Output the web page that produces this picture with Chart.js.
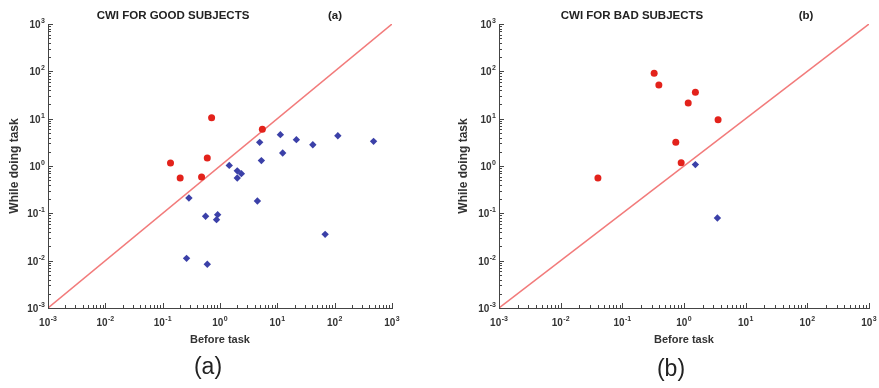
<!DOCTYPE html>
<html>
<head>
<meta charset="utf-8">
<script src="https://cdn.jsdelivr.net/npm/chart.js@4/dist/chart.umd.min.js"></script>
<style>
  html, body { margin: 0; padding: 0; background: #fff; }
  body { width: 879px; height: 388px; position: relative; overflow: hidden; font-family: "Liberation Sans", Arial, sans-serif; }
  canvas { position: absolute; top: 0; }
  .ttl { position: absolute; font-weight: bold; font-size: 11.5px; color: #222; transform: translate(-50%, -50%); white-space: nowrap; }
  .cap { position: absolute; font-size: 23px; color: #222; transform: translate(-50%, -50%); font-family: "Liberation Sans", sans-serif; }
</style>
</head>
<body>
<canvas id="ca" width="440" height="355" style="left:0"></canvas>
<canvas id="cb" width="439" height="355" style="left:440px"></canvas>
<div class="ttl" style="left:173px; top:15px">CWI FOR GOOD SUBJECTS</div>
<div class="ttl" style="left:335px; top:15px">(a)</div>
<div class="ttl" style="left:632px; top:15px">CWI FOR BAD SUBJECTS</div>
<div class="ttl" style="left:806px; top:15px">(b)</div>
<div class="cap" style="left:208px; top:366px">(a)</div>
<div class="cap" style="left:671px; top:368px">(b)</div>
<script>
// ---- data ----
const tickValues = [1e-3, 1e-2, 1e-1, 1e0, 1e1, 1e2, 1e3];
const tickBase = '10';
const tickExponents = ['-3', '-2', '-1', '0', '1', '2', '3'];
const identityLine = [1e-3, 1e3];

const goodRedX = [0.137, 0.202, 0.477, 0.600, 0.714, 5.48];
const goodRedY = [1.16, 0.557, 0.586, 1.47, 10.5, 5.95];
const goodBlueX = [0.287, 0.261, 0.561, 0.600, 0.91, 0.87, 1.45, 2.0, 2.36, 2.0, 4.49, 4.92, 5.27, 11.3, 12.4, 21.5, 41.6, 68.2, 113.6, 477];
const goodBlueY = [0.211, 0.0112, 0.0865, 0.00837, 0.0937, 0.0735, 1.03, 0.79, 0.69, 0.557, 0.182, 3.16, 1.30, 4.59, 1.88, 3.6, 2.82, 0.036, 4.37, 3.32];

const badRedX = [0.0402, 0.328, 0.391, 0.736, 0.90, 1.17, 1.53, 3.57];
const badRedY = [0.557, 90.8, 51.4, 3.16, 1.175, 21.4, 36, 9.5];
const badBlueX = [1.53, 3.48];
const badBlueY = [1.07, 0.0797];

// ---- helpers ----
const pts = (xs, ys) => xs.map((x, i) => ({ x: x, y: ys[i] }));
const AXIS = '#444';
const RED = '#e3221b';
const BLUE = '#3b40a8';
const LINE = '#f27b7b';
const BASE_FONT = 'bold 10px "Liberation Sans", Arial, sans-serif';
const EXP_FONT = 'bold 7px "Liberation Sans", Arial, sans-serif';

const minorTicks = {
  id: 'minorTicks',
  afterDatasetsDraw(chart) {
    const { ctx, scales: { x, y }, chartArea: a } = chart;
    ctx.save();
    ctx.strokeStyle = AXIS;
    ctx.lineWidth = 1;
    ctx.beginPath();
    for (let e = -3; e <= 3; e++) {
      for (let m = 1; m <= 9; m++) {
        if (e === 3 && m > 1) break;
        const v = m * Math.pow(10, e);
        const len = m === 1 ? 5 : 3;
        const px = Math.round(x.getPixelForValue(v)) + 0.5;
        ctx.moveTo(px, a.bottom);
        ctx.lineTo(px, a.bottom - len);
        const py = Math.round(y.getPixelForValue(v)) + 0.5;
        ctx.moveTo(a.left, py);
        ctx.lineTo(a.left + len, py);
      }
    }
    ctx.stroke();
    ctx.restore();
  }
};

// power-of-ten tick labels with raised exponents, placed through the scales
const powerLabels = {
  id: 'powerLabels',
  afterDraw(chart) {
    const { ctx, scales: { x, y }, chartArea: a } = chart;
    ctx.save();
    ctx.fillStyle = '#333';
    ctx.textBaseline = 'alphabetic';
    tickValues.forEach((v, i) => {
      const exp = tickExponents[i];
      ctx.font = BASE_FONT; const wb = ctx.measureText(tickBase).width;
      ctx.font = EXP_FONT; const we = ctx.measureText(exp).width;
      const total = wb + we + 0.5;
      // x axis label
      const px = x.getPixelForValue(v);
      const bx = px - total / 2;
      const by = a.bottom + 18;
      ctx.textAlign = 'left';
      ctx.font = BASE_FONT; ctx.fillText(tickBase, bx, by);
      ctx.font = EXP_FONT; ctx.fillText(exp, bx + wb + 0.5, by - 5);
      // y axis label
      const py = y.getPixelForValue(v);
      const rx = a.left - 3 - total;
      const ry = py + 4;
      ctx.font = BASE_FONT; ctx.fillText(tickBase, rx, ry);
      ctx.font = EXP_FONT; ctx.fillText(exp, rx + wb + 0.5, ry - 5);
    });
    ctx.restore();
  }
};

function makeChart(id, redPts, bluePts, geom) {
  const axisScale = (extra) => Object.assign({
    type: 'logarithmic',
    min: 1e-3,
    max: 1e3,
    grid: { display: false, drawTicks: false },
    border: { display: true, color: AXIS, width: 1 },
    afterBuildTicks: (s) => { s.ticks = tickValues.map(v => ({ value: v })); },
    ticks: { display: false }
  }, extra);

  return new Chart(document.getElementById(id), {
    data: {
      datasets: [
        { type: 'line', data: pts(identityLine, identityLine), borderColor: LINE, borderWidth: 1.5, pointRadius: 0, order: 3, fill: false },
        { type: 'scatter', data: pts(bluePts[0], bluePts[1]), pointStyle: 'rectRot', pointRadius: 3.7, backgroundColor: BLUE, borderColor: BLUE, borderWidth: 0, order: 2 },
        { type: 'scatter', data: pts(redPts[0], redPts[1]), pointStyle: 'circle', pointRadius: 3.5, backgroundColor: RED, borderColor: RED, borderWidth: 0, order: 1 }
      ]
    },
    options: {
      responsive: false,
      animation: false,
      events: [],
      layout: { padding: { left: 0, right: geom.right, top: 24, bottom: 0 } },
      plugins: { legend: { display: false }, tooltip: { enabled: false }, title: { display: false } },
      scales: {
        x: axisScale({
          position: 'bottom',
          title: { display: true, text: 'Before task', color: '#333', font: { family: '"Liberation Sans", Arial, sans-serif', size: 11, weight: 'bold' }, padding: { top: 0, bottom: 8 } },
          afterFit: (s) => { s.height = 47; }
        }),
        y: axisScale({
          position: 'left',
          title: { display: true, text: 'While doing task', color: '#333', font: { family: '"Liberation Sans", Arial, sans-serif', size: 12, weight: 'bold' }, padding: { top: geom.titlePad, bottom: 0 } },
          afterFit: (s) => { s.width = geom.left; }
        })
      }
    },
    plugins: [minorTicks, powerLabels]
  });
}

makeChart('ca', [goodRedX, goodRedY], [goodBlueX, goodBlueY], { left: 48, right: 48, titlePad: 7 });
makeChart('cb', [badRedX, badRedY], [badBlueX, badBlueY], { left: 59, right: 10, titlePad: 16 });
</script>
</body>
</html>
